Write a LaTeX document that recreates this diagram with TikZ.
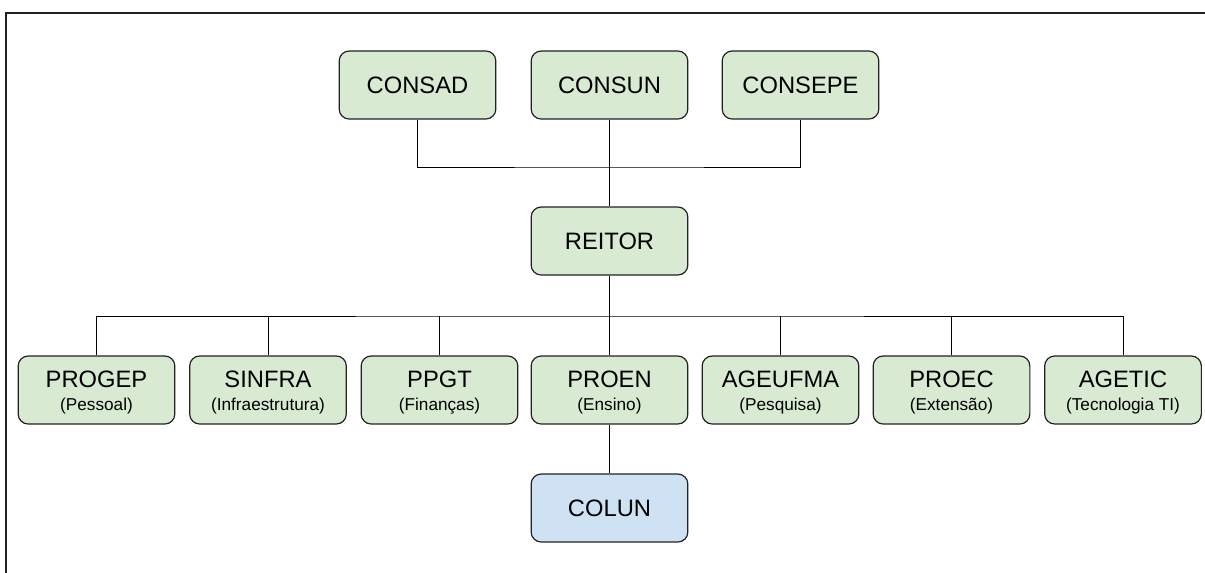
\documentclass[tikz,border=0pt]{standalone}
\usepackage{fontspec}
\setmainfont{Liberation Sans}
\definecolor{boxgreen}{HTML}{D9EAD3}
\definecolor{boxblue}{HTML}{CFE2F3}
\definecolor{edgegray}{HTML}{222222}
\begin{document}
\begin{tikzpicture}[x=0.75pt,y=-0.75pt,
  orgbox/.style={draw=edgegray, line width=0.9pt, fill=boxgreen, rounded corners=7.5pt,
    minimum width=117.5pt, minimum height=51pt, inner sep=0pt, align=center,
    font=\fontsize{17.8}{17.25}\selectfont},
  bluebox/.style={orgbox, fill=boxblue},
  conn/.style={draw=black, line width=0.75pt},
  frameline/.style={draw=edgegray, line width=1.5pt}]
\newcommand{\twolines}[2]{\rule{0pt}{15.8pt}#1\\{\fontsize{12.9}{17.25}\selectfont #2}}
\useasboundingbox (0,0) rectangle (1205,572);
\draw[frameline] (1206,13) -- (5.5,13) -- (5.5,573);

% top row
\node[orgbox] (consad) at (417.5,85) {CONSAD};
\node[orgbox] (consun) at (609.5,85) {CONSUN};
\node[orgbox] (consepe) at (800.5,85) {CONSEPE};
% reitor
\node[orgbox] (reitor) at (609.5,241) {REITOR};
% bottom row
\node[orgbox] (progep) at (96.5,390) {\twolines{PROGEP}{(Pessoal)}};
\node[orgbox] (sinfra) at (268,390) {\twolines{SINFRA}{(Infraestrutura)}};
\node[orgbox] (ppgt) at (439.5,390) {\twolines{PPGT}{(Finanças)}};
\node[orgbox] (proen) at (609.5,390) {\twolines{PROEN}{(Ensino)}};
\node[orgbox] (ageufma) at (780.5,390) {\twolines{AGEUFMA}{(Pesquisa)}};
\node[orgbox] (proec) at (951.5,390) {\twolines{PROEC}{(Extensão)}};
\node[orgbox] (agetic) at (1123,390) {\twolines{AGETIC}{(Tecnologia TI)}};
% colun
\node[bluebox] (colun) at (609.5,508) {COLUN};

\coordinate (tb) at (609.5,167);
\coordinate (bb) at (609.5,316);

% connectors top
\draw[conn] (consad.south) |- (tb) -| (consepe.south);
\draw[conn] (consun.south) -- (reitor.north);
% connectors bottom
\draw[conn] (reitor.south) -- (proen.north);
\draw[conn] (progep.north) |- (bb) -| (agetic.north);
\draw[conn] (sinfra.north) -- (sinfra.north |- bb);
\draw[conn] (ppgt.north) -- (ppgt.north |- bb);
\draw[conn] (ageufma.north) -- (ageufma.north |- bb);
\draw[conn] (proec.north) -- (proec.north |- bb);
\draw[conn] (proen.south) -- (colun.north);
\end{tikzpicture}
\end{document}
